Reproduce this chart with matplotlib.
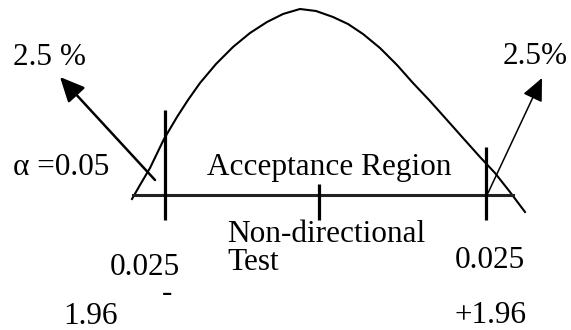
import numpy as np
import matplotlib.pyplot as plt

# curve (pixel coordinates, y downwards)
curve_x = [132, 140, 150, 164, 177, 188, 200, 216, 233, 250, 267, 283, 300, 316, 333,
           348, 363, 380, 397, 413, 430, 447, 463, 480, 495, 510, 525]
curve_y = [199, 185, 168, 139, 117, 100, 83, 64, 47, 33, 22, 14, 9, 11, 17,
           24, 34, 48, 65, 83, 101, 120, 138, 157, 173, 192, 212]

base_x = [133, 513]
base_y = 195
crit_x = [165, 486]
crit_top = [110, 147]
crit_bottom = 220
mid_x = 319
mid_top = 184

left_arrow = [(155, 180), (60, 77)]
right_arrow = [(488, 193), (542, 78)]

labels = [
    ("2.5 %", 13, 65),
    ("2.5%", 503, 64),
    ("\u03b1 =0.05", 13, 175),
    ("Acceptance Region", 207, 175),
    ("Non-directional", 227, 242),
    ("Test", 227, 270),
    ("0.025", 110, 275),
    ("-", 162, 301),
    ("1.96", 63, 324),
    ("0.025", 455, 268),
    ("+1.96", 455, 323),
]

fig = plt.figure(figsize=(5.71, 3.30), dpi=100, facecolor='white')
ax = fig.add_axes([0, 0, 1, 1])
ax.set_xlim(0, 571)
ax.set_ylim(330, 0)
ax.axis('off')

ax.plot(curve_x, curve_y, color='black', linewidth=1.5, solid_joinstyle='round')
ax.plot(base_x, [base_y, base_y], color='#222222', linewidth=2.2)
for x, top in zip(crit_x, crit_top):
    ax.plot([x, x], [top, crit_bottom], color='black', linewidth=2.3, solid_capstyle='butt')
ax.plot([mid_x, mid_x], [mid_top, crit_bottom], color='black', linewidth=2.3, solid_capstyle='butt')

ax.annotate('', xy=left_arrow[1], xytext=left_arrow[0],
            arrowprops=dict(arrowstyle='-|>,head_length=0.75,head_width=0.35',
                            mutation_scale=20, color='black', lw=1.8, shrinkA=0, shrinkB=0))
ax.annotate('', xy=right_arrow[1], xytext=right_arrow[0],
            arrowprops=dict(arrowstyle='-|>,head_length=0.7,head_width=0.32',
                            mutation_scale=20, color='black', lw=1.1, shrinkA=0, shrinkB=0))

for txt, x, y in labels:
    ax.text(x, y, txt, fontsize=22.5, family='Liberation Serif', ha='left', va='baseline')

fig.savefig('out.png', dpi=100)
